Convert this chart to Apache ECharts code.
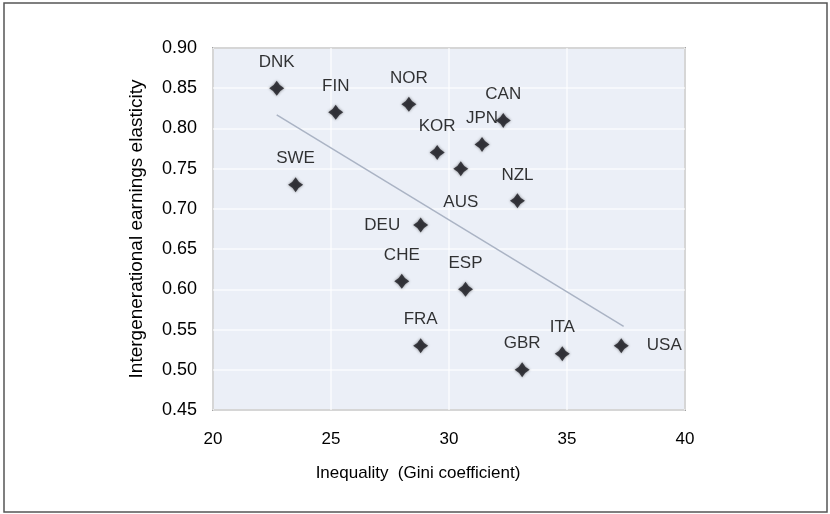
<!DOCTYPE html>
<html>
<head>
<meta charset="utf-8">
<script src="https://cdn.jsdelivr.net/npm/echarts@6/dist/echarts.min.js"></script>
<style>
html,body{margin:0;padding:0;background:#fff;}
#chart{width:830px;height:514px;}
</style>
</head>
<body>
<div id="chart"></div>
<script>
// ---- data ----
var countries = ['DNK','FIN','SWE','NOR','CAN','JPN','KOR','AUS','NZL','DEU','CHE','ESP','FRA','GBR','ITA','USA'];
var gini      = [22.7, 25.2, 23.5, 28.3, 32.3, 31.4, 29.5, 30.5, 32.9, 28.8, 28.0, 30.7, 28.8, 33.1, 34.8, 37.3];
var elasticity= [0.85, 0.82, 0.73, 0.83, 0.81, 0.78, 0.77, 0.75, 0.71, 0.68, 0.61, 0.60, 0.53, 0.50, 0.52, 0.53];
var trendX = [22.7, 37.4];
var trendY = [0.817, 0.554];
var xTicks = [20, 25, 30, 35, 40];
var yTicks = [0.45, 0.50, 0.55, 0.60, 0.65, 0.70, 0.75, 0.80, 0.85, 0.90];

// label placement (style only)
var labelPlace = {
  AUS: {position: 'bottom', distance: 18},
  DEU: {position: 'left', distance: 13},
  USA: {position: 'right', distance: 18}
};

var font = '"Liberation Sans", Arial, sans-serif';
var starPath = 'path://M0,-10 Q3.4,-3.4 10,0 Q3.4,3.4 0,10 Q-3.4,3.4 -10,0 Q-3.4,-3.4 0,-10 Z';

var pts = countries.map(function(c, i){
  var lp = labelPlace[c] || {position: 'top', distance: 10};
  return {
    name: c,
    value: [gini[i], elasticity[i]],
    label: {show: true, formatter: c, position: lp.position, distance: lp.distance}
  };
});

var chart = echarts.init(document.getElementById('chart'), null, {renderer: 'canvas'});
chart.setOption({
  animation: false,
  backgroundColor: '#ffffff',
  grid: {
    left: 213, top: 48, width: 472, height: 362,
    show: true, backgroundColor: '#ebeff7',
    borderColor: '#a3a3a3', borderWidth: 2
  },
  graphic: [
    {type: 'rect', shape: {x: 4, y: 3, width: 823, height: 509},
     style: {fill: 'none', stroke: '#555', lineWidth: 1.5}, silent: true}
  ],
  xAxis: {
    type: 'value', min: xTicks[0], max: xTicks[xTicks.length-1], interval: 5,
    axisLine: {show: false}, axisTick: {show: false},
    splitLine: {show: true, lineStyle: {color: 'rgba(255,255,255,0.75)', width: 1.5}},
    axisLabel: {color: '#000', fontSize: 17, fontFamily: font, margin: 21},
    name: 'Inequality  (Gini coefficient)', nameLocation: 'middle', nameGap: 55,
    nameTextStyle: {color: '#000', fontSize: 17, fontFamily: font, padding: [0, 62, 0, 0]}
  },
  yAxis: {
    type: 'value', min: yTicks[0], max: yTicks[yTicks.length-1], interval: 0.05,
    axisLine: {show: false}, axisTick: {show: false},
    splitLine: {show: true, lineStyle: {color: 'rgba(255,255,255,0.75)', width: 1.5}},
    axisLabel: {color: '#000', fontSize: 18, fontFamily: font, margin: 16,
      formatter: function(v){ return v.toFixed(2); }},
    name: 'Intergenerational earnings elasticity', nameLocation: 'middle', nameGap: 67,
    nameTextStyle: {color: '#000', fontSize: 19, fontFamily: font}
  },
  series: [
    {
      type: 'line', data: trendX.map(function(x, i){ return [x, trendY[i]]; }),
      symbol: 'none', lineStyle: {color: '#aab3c4', width: 1.5}, silent: true, z: 1
    },
    {
      type: 'scatter', data: pts, symbol: starPath, symbolSize: 15,
      itemStyle: {color: '#1a1a20', shadowBlur: 3, shadowColor: 'rgba(0,0,0,0.55)'},
      label: {color: '#000', fontSize: 17, fontFamily: font},
      z: 3
    }
  ]
});
</script>
</body>
</html>
